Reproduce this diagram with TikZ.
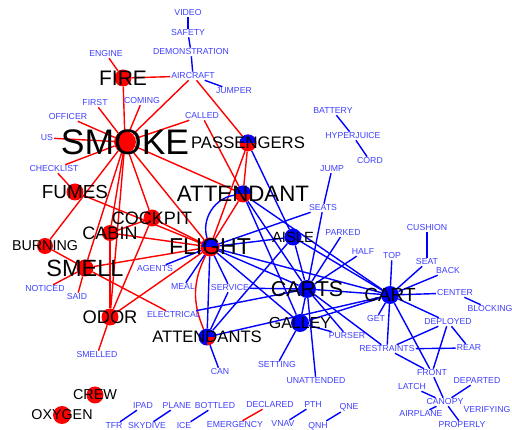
\documentclass[tikz,border=0pt]{standalone}
\usepackage{fontspec}
\setmainfont{Liberation Sans}
\usetikzlibrary{backgrounds}
\definecolor{wordblue}{RGB}{64,64,255}

\begin{document}
\begin{tikzpicture}[x=1pt, y=-1pt,
        word/.style={text=wordblue, font=\fontsize{8.7}{9}\selectfont, inner sep=1pt},
        redhub/.style={circle, fill=red, inner sep=0pt, minimum size=17pt},
        bluehub/.style={circle, fill=blue, inner sep=0pt, minimum size=17pt},
        tophalf/.style={circle, fill=red, inner sep=0pt, minimum size=17pt,
          path picture={\fill[blue] (path picture bounding box.west) rectangle (path picture bounding box.north east);}},
        quarter/.style={circle, fill=blue, inner sep=0pt, minimum size=17pt,
          path picture={\fill[red] (path picture bounding box.center) rectangle (path picture bounding box.south east);}},
        tag/.style={text=black, inner sep=0pt, font=\fontsize{#1}{#1}\selectfont},
        redline/.style={draw=red, line width=1.4pt},
        blueline/.style={draw=blue, line width=1.4pt}
      ]
      \useasboundingbox (0,0) rectangle (512,430);

      \node [redhub] (fire) at (123,78) {};
      \node [redhub, minimum size=22pt] (smoke) at (125,142) {};
      \node [tophalf] (passengers) at (248,143) {};
      \node [tophalf] (attendant) at (243,194) {};
      \node [redhub] (cockpit) at (152,218) {};
      \node [redhub, minimum size=16pt] (cabin) at (110,233) {};
      \node [tophalf, draw=red, line width=1pt, minimum size=18pt] (flight) at (210,247) {};
      \node [redhub] (fumes) at (75,192) {};
      \node [redhub, minimum size=16pt] (burning) at (45,246) {};
      \node [redhub] (smell) at (85,268) {};
      \node [redhub] (odor) at (110,317) {};
      \node [quarter] (attendants) at (207,337) {};
      \node [bluehub] (aisle) at (293,237) {};
      \node [bluehub, minimum size=18pt] (carts) at (307,289) {};
      \node [bluehub, minimum size=18pt] (galley) at (300,323) {};
      \node [bluehub, minimum size=18pt] (cart) at (390,295) {};
      \node [redhub] (crew) at (95,395) {};
      \node [redhub, minimum size=18pt] (oxygen) at (62,415) {};

      \node [tag=21] (fireT) at (fire) {FIRE};
      \node [tag=35.5] (smokeT) at (smoke) {SMOKE};
      \node [tag=16.7] (passengersT) at (passengers) {PASSENGERS};
      \node [tag=22.3] (attendantT) at (attendant) {ATTENDANT};
      \node [tag=18] (cockpitT) at (cockpit) {COCKPIT};
      \node [tag=18] (cabinT) at (cabin) {CABIN};
      \node [tag=23] (flightT) at (flight) {FLIGHT};
      \node [tag=18.9] (fumesT) at (fumes) {FUMES};
      \node [tag=14.3] (burningT) at (burning) {BURNING};
      \node [tag=23.5] (smellT) at (smell) {SMELL};
      \node [tag=18.3] (odorT) at (odor) {ODOR};
      \node [tag=16.6] (attendantsT) at (attendants) {ATTENDANTS};
      \node [tag=14.8] (aisleT) at (aisle) {AISLE};
      \node [tag=21.5] (cartsT) at (carts) {CARTS};
      \node [tag=16] (galleyT) at (galley) {GALLEY};
      \node [tag=19] (cartT) at (cart) {CART};
      \node [tag=14.4] (crewT) at (crew) {CREW};
      \node [tag=14.3] (oxygenT) at (oxygen) {OXYGEN};

      \node [word] (video) at (188,13) {VIDEO};
      \node [word] (safety) at (188,33) {SAFETY};
      \node [word] (demonstration) at (191,52) {DEMONSTRATION};
      \node [word] (aircraft) at (193,76) {AIRCRAFT};
      \node [word] (jumper) at (234,91) {JUMPER};
      \node [word] (engine) at (106,54) {ENGINE};
      \node [word] (first) at (95,103) {FIRST};
      \node [word] (coming) at (142,101) {COMING};
      \node [word] (officer) at (68,117) {OFFICER};
      \node [word] (called) at (202,116) {CALLED};
      \node [word] (us) at (47,138) {US};
      \node [word] (checklist) at (54,169) {CHECKLIST};
      \node [word] (agents) at (155,269) {AGENTS};
      \node [word] (meal) at (183,287) {MEAL};
      \node [word] (service) at (230,288) {SERVICE};
      \node [word] (noticed) at (45,289) {NOTICED};
      \node [word] (said) at (77,297) {SAID};
      \node [word] (electrical) at (174,315) {ELECTRICAL};
      \node [word] (smelled) at (97,355) {SMELLED};
      \node [word] (can) at (220,372) {CAN};
      \node [word] (ipad) at (143,406) {IPAD};
      \node [word] (tfr) at (114,426) {TFR};
      \node [word] (plane) at (177,406) {PLANE};
      \node [word] (skydive) at (147,426) {SKYDIVE};
      \node [word] (bottled) at (215,406) {BOTTLED};
      \node [word] (ice) at (184,426) {ICE};
      \node [word] (declared) at (270,405) {DECLARED};
      \node [word] (emergency) at (235,425) {EMERGENCY};
      \node [word] (pth) at (313,405) {PTH};
      \node [word] (vnav) at (283,424) {VNAV};
      \node [word] (qne) at (349,407) {QNE};
      \node [word] (qnh) at (318,426) {QNH};
      \node [word] (battery) at (333,111) {BATTERY};
      \node [word] (hyperjuice) at (353,136) {HYPERJUICE};
      \node [word] (cord) at (370,161) {CORD};
      \node [word] (jump) at (332,169) {JUMP};
      \node [word] (seats) at (323,208) {SEATS};
      \node [word] (parked) at (343,233) {PARKED};
      \node [word] (half) at (363,252) {HALF};
      \node [word] (top) at (392,256) {TOP};
      \node [word] (cushion) at (427,228) {CUSHION};
      \node [word] (seat) at (427,262) {SEAT};
      \node [word] (back) at (448,271) {BACK};
      \node [word] (center) at (455,293) {CENTER};
      \node [word] (blocking) at (490,309) {BLOCKING};
      \node [word] (get) at (376,319) {GET};
      \node [word] (deployed) at (448,322) {DEPLOYED};
      \node [word] (purser) at (347,336) {PURSER};
      \node [word] (restraints) at (387,349) {RESTRAINTS};
      \node [word] (rear) at (469,348) {REAR};
      \node [word] (setting) at (277,365) {SETTING};
      \node [word] (unattended) at (316,381) {UNATTENDED};
      \node [word] (front) at (432,373) {FRONT};
      \node [word] (latch) at (412,387) {LATCH};
      \node [word] (departed) at (477,381) {DEPARTED};
      \node [word] (canopy) at (445,402) {CANOPY};
      \node [word] (airplane) at (421,414) {AIRPLANE};
      \node [word] (verifying) at (487,410) {VERIFYING};
      \node [word] (properly) at (462,425) {PROPERLY};

      \begin{scope}[on background layer]
        \path[redline] (smoke) edge (fire) edge (aircraft) edge (coming) edge (first)
          edge (officer) edge (us) edge (called) edge (checklist) edge (burning)
          edge (smell) edge (cabin) edge (odor) edge (cockpit) edge (flight) edge (attendant);
        \path[redline] (fire) edge (engine) edge (aircraft);
        \path[redline] (aircraft) edge (passengers);
        \path[redline] (called) edge (attendant);
        \path[redline] (passengers) edge (attendant) edge (flight);
        \path[redline] (attendant) edge (flight);
        \path[redline] (fumes) edge (checklist) edge (flight);
        \path[redline] (cockpit) edge (flight) edge (cabin) edge (odor);
        \path[redline] (cabin) edge (flight) edge (odor);
        \path[redline] (smell) edge (burning) edge (noticed) edge (said) edge (flight) edge (electrical);
        \path[redline] (odor) edge (flight) edge (smelled);
        \path[redline] (flight) edge[bend right=25] (attendants);
        \path[redline] (declared) edge (emergency);

        \path[blueline] (video) edge (safety) (safety) edge (demonstration)
          (demonstration) edge (aircraft) (aircraft) edge (jumper);
        \path[blueline] (battery) edge (hyperjuice) (hyperjuice) edge (cord) (jump) edge (seats);
        \path[blueline] (passengers) edge (aisle);
        \path[blueline] (attendant) edge[bend right=50] (flight);
        \path[blueline] (attendant) edge (carts) edge (galley) edge (cart);
        \path[blueline] (flight) edge (agents) edge (meal) edge (service) edge (seats) edge (aisle)
          edge (carts) edge (cart) edge (galley) edge (attendants);
        \path[blueline] (attendants) edge (can) edge (aisle) edge (cart) edge (service);
        \path[blueline] (carts) edge (electrical) edge (seats) edge (parked) edge (half) edge (aisle)
          edge (service) edge (galley) edge (cart) edge (purser) edge (restraints) edge (unattended);
        \path[blueline] (aisle) edge (cart);
        \path[blueline] (galley) edge (setting) edge (purser) edge (cart);
        \path[blueline] (cart) edge (top) edge (seat) edge (back) edge (center) edge (deployed)
          edge (get) edge (restraints) edge (front);
        \path[blueline] (seat) edge (cushion) (center) edge (blocking);
        \path[blueline] (deployed) edge (restraints) edge (rear) edge (front);
        \path[blueline] (restraints) edge (rear) edge (front);
        \path[blueline] (canopy) edge (front) edge (latch) edge (departed) edge (airplane)
          edge (verifying) edge (properly);
        \path[blueline] (ipad) edge (tfr) (plane) edge (skydive) (bottled) edge (ice)
          (pth) edge (vnav) (qne) edge (qnh);
      \end{scope}
    \end{tikzpicture}
\end{document}
